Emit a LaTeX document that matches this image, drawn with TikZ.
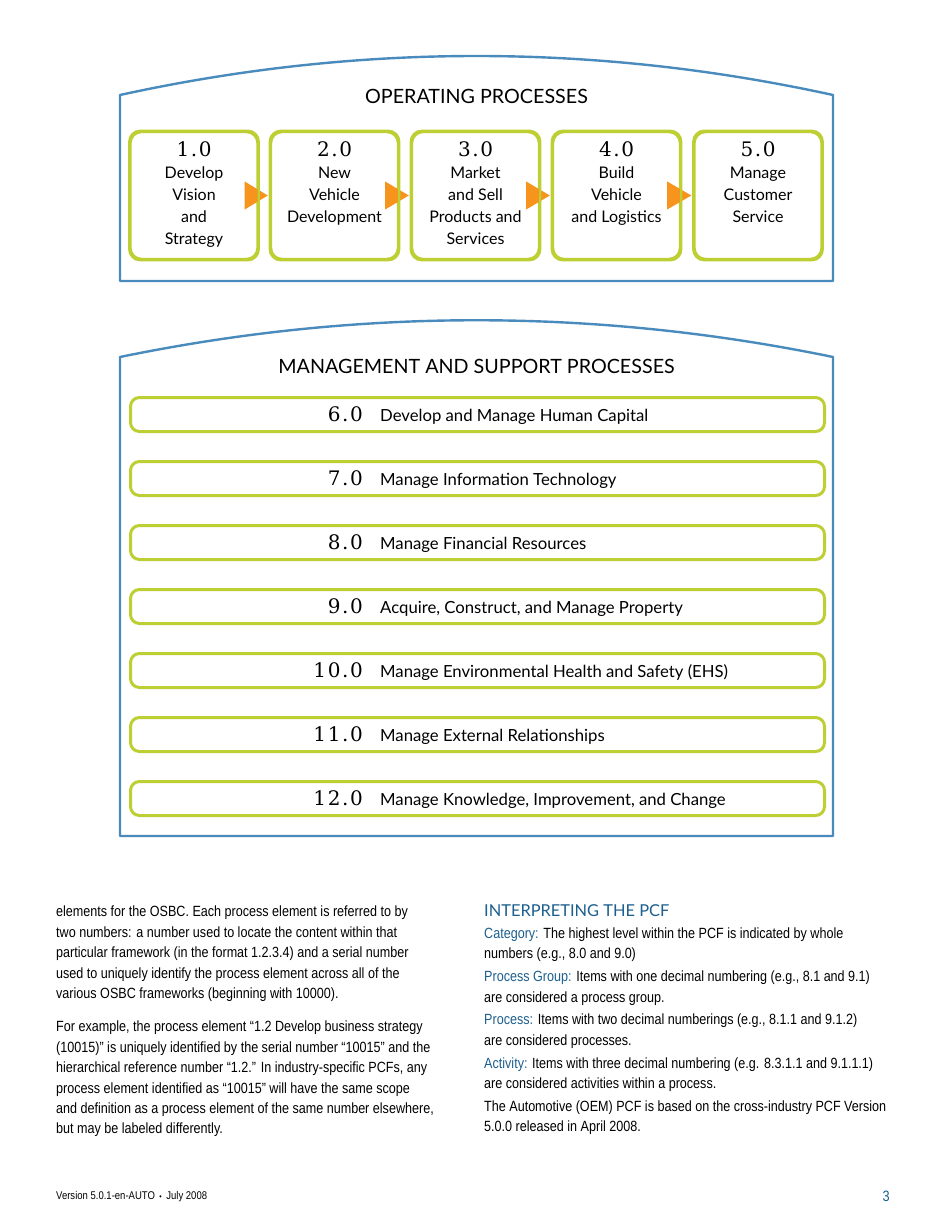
\documentclass[tikz,border=0pt]{standalone}
\usepackage{fontspec}
\usepackage{tikz}
\usetikzlibrary{positioning}
\setmainfont{Lato}
\newfontfamily\numfont[LetterSpace=8]{DejaVu Serif}
\newfontfamily\bodyfont[FakeStretch=0.85]{Liberation Sans}

\definecolor{panelblue}{HTML}{4A8BBE}
\definecolor{boxgreen}{HTML}{BDCF32}
\definecolor{flowor}{HTML}{F7941D}
\definecolor{headblue}{HTML}{1D5F8E}

\tikzset{
  panel/.style={draw=panelblue, line width=2.4pt, line join=round},
  procbox/.style={draw=boxgreen, line width=2.4pt, rounded corners=11pt,
    minimum width=127pt, minimum height=127pt, inner sep=0pt},
  proctxt/.style={align=center, font=\fontsize{16}{22}\selectfont, inner sep=0pt},
  flow/.style={fill=flowor},
  supbar/.style={draw=boxgreen, line width=3pt, rounded corners=9pt,
    minimum width=694pt, minimum height=34pt, inner sep=0pt},
  barnum/.style={font=\numfont\fontsize{20}{20}\selectfont, inner sep=0pt},
  bartxt/.style={font=\fontsize{16.7}{18}\selectfont, inner sep=0pt},
  ptitle/.style={font=\fontsize{19.7}{20}\selectfont, inner sep=0pt},
  body/.style={font=\bodyfont\fontsize{14.8}{20.4}\selectfont, align=left,
    inner sep=0pt, anchor=north west}
}

\begin{document}
\begin{tikzpicture}[x=1pt, y=-1pt]
    \useasboundingbox[fill=white] (0,0) rectangle (950,1230);

    % Operating panel
    \draw[panel] (120,281) -- (120,95) .. controls (357.7,43) and (595.3,43) .. (833,95) -- (833,281) -- cycle;
    \node[ptitle] (optitle) at (476.5,96) {OPERATING PROCESSES};

    % Process boxes
    \node[procbox] (o1) at (194,195.5) {};
    \node[procbox] (o2) at (334.5,195.5) {};
    \node[procbox] (o3) at (475.5,195.5) {};
    \node[procbox] (o4) at (616.5,195.5) {};
    \node[procbox] (o5) at (758,195.5) {};

    \node[proctxt, below=11pt of o1.north] (t1) {{\numfont\fontsize{20}{22}\selectfont 1.0}\\Develop\\Vision\\and\\Strategy};
    \node[proctxt, below=11pt of o2.north] (t2) {{\numfont\fontsize{20}{22}\selectfont 2.0}\\New\\Vehicle\\Development};
    \node[proctxt, below=11pt of o3.north] (t3) {{\numfont\fontsize{20}{22}\selectfont 3.0}\\Market\\and Sell\\Products and\\Services};
    \node[proctxt, below=11pt of o4.north] (t4) {{\numfont\fontsize{20}{22}\selectfont 4.0}\\Build\\Vehicle\\and Logistics};
    \node[proctxt, below=11pt of o5.north] (t5) {{\numfont\fontsize{20}{22}\selectfont 5.0}\\Manage\\Customer\\Service};

    % Flow arrows between boxes
    \foreach \a/\b in {o1/o2, o2/o3, o3/o4, o4/o5}
        \fill[flow] ([xshift=-14pt, yshift=14pt]\a.east) -- ([xshift=-2pt]\b.west) -- ([xshift=-14pt, yshift=-14pt]\a.east) -- cycle;
    \foreach \a in {o1, o2, o3, o4, o5}
        \draw[draw=boxgreen, line width=2.4pt, rounded corners=11pt] (\a.north west) rectangle (\a.south east);

    % Management and support panel
    \draw[panel] (120,836) -- (120,357) .. controls (357.7,308) and (595.3,308) .. (833,357) -- (833,836) -- cycle;
    \node[ptitle] (mstitle) at (476.5,366) {MANAGEMENT AND SUPPORT PROCESSES};

    \foreach \n/\t [count=\i] in {6.0/Develop and Manage Human Capital,
        7.0/Manage Information Technology,
        8.0/Manage Financial Resources,
        9.0/{Acquire, Construct, and Manage Property},
        10.0/Manage Environmental Health and Safety (EHS),
        11.0/Manage External Relationships,
        12.0/{Manage Knowledge, Improvement, and Change}} {
        \node[supbar] (b\i) at (477.5,{414.5+64*(\i-1)}) {};
        \node[barnum, anchor=base east] (bn\i) at ([xshift=234pt, yshift=-7pt]b\i.west) {\n};
        \node[bartxt, anchor=base west] (bt\i) at ([xshift=251pt, yshift=-7pt]b\i.west) {\t};
    }

    % Text columns
    \node[body] (leftcol) at (56,906) {elements for the OSBC. Each process element is referred to by\\
two numbers: a number used to locate the content within that\\
particular framework (in the format 1.2.3.4) and a serial number\\
used to uniquely identify the process element across all of the\\
various OSBC frameworks (beginning with 10000).\\[13pt]
For example, the process element “1.2 Develop business strategy\\
(10015)” is uniquely identified by the serial number “10015” and the\\
hierarchical reference number “1.2.” In industry-specific PCFs, any\\
process element identified as “10015” will have the same scope\\
and definition as a process element of the same number elsewhere,\\
but may be labeled differently.};

    \node[body, text=headblue, font=\fontsize{16.4}{18}\selectfont] (pcfhead) at (484,904) {INTERPRETING THE PCF};
    \node[body, below=11pt of pcfhead.south west, anchor=north west] (rightcol) {\textcolor{headblue}{Category:} The highest level within the PCF is indicated by whole\\
numbers (e.g., 8.0 and 9.0)\\[2.5pt]
\textcolor{headblue}{Process Group:} Items with one decimal numbering (e.g., 8.1 and 9.1)\\
are considered a process group.\\[2.5pt]
\textcolor{headblue}{Process:} Items with two decimal numberings (e.g., 8.1.1 and 9.1.2)\\
are considered processes.\\[2.5pt]
\textcolor{headblue}{Activity:} Items with three decimal numbering (e.g. 8.3.1.1 and 9.1.1.1)\\
are considered activities within a process.\\[2.5pt]
The Automotive (OEM) PCF is based on the cross-industry PCF Version\\
5.0.0 released in April 2008.};

    % Footer
    \node[font=\bodyfont\fontsize{11.2}{12}\selectfont, anchor=west, inner sep=0pt] (foot) at (56,1197) {Version 5.0.1-en-AUTO \,{\fontsize{8}{8}\selectfont•}\, July 2008};
    \node[font=\bodyfont\fontsize{15}{15}\selectfont, text=headblue, anchor=east, inner sep=0pt] (pageno) at (890,1196) {3};
\end{tikzpicture}
\end{document}
